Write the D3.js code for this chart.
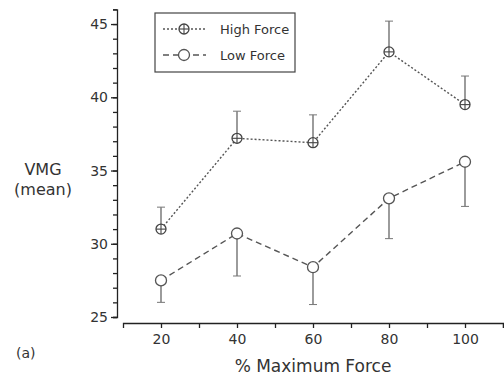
<!DOCTYPE html>
<html>
<head>
<meta charset="utf-8">
<script src="https://cdnjs.cloudflare.com/ajax/libs/d3/7.8.5/d3.min.js"></script>
<style>
  body { margin: 0; background: #fff; }
  text { font-family: "DejaVu Sans", sans-serif; fill: #333; }
</style>
</head>
<body>
<script>
// 数据
let forces = [20, 40, 60, 80, 100];
let highMean = [31.0, 37.2, 36.9, 43.1, 39.5];
let highErr = [1.5, 1.85, 1.9, 2.1, 1.95];
let lowMean = [27.5, 30.7, 28.4, 33.1, 35.6];
let lowErr = [1.5, 2.9, 2.55, 2.75, 3.05];
let yMajor = [25, 30, 35, 40, 45];
let xMajor = [20, 40, 60, 80, 100];
let xMinor = [30, 50, 70, 90, 110];

let width = 504;
let height = 383;

let x = d3.scaleLinear().domain([10, 110]).range([123, 503]);
let y = d3.scaleLinear().domain([25, 46]).range([317, 9.4]);

let svg = d3.select('body')
  .append('svg')
  .attr('width', width)
  .attr('height', height);

// y轴
let yAxisX = 117;
svg.append('g')
  .attr('transform', `translate(${yAxisX},0)`)
  .call(d3.axisLeft(y).tickValues(d3.range(25, 47)).tickSize(4).tickSizeOuter(4).tickFormat(''))
  .call(g => g.selectAll('path, line').attr('stroke', '#222').attr('stroke-width', 1.3));

svg.append('g')
  .attr('transform', `translate(${yAxisX},0)`)
  .call(d3.axisLeft(y).tickValues(yMajor).tickSize(6).tickSizeOuter(0).tickPadding(3))
  .call(g => g.select('.domain').remove())
  .call(g => g.selectAll('line').attr('stroke', '#222').attr('stroke-width', 1.3))
  .call(g => g.selectAll('text').attr('font-size', 14).attr('fill', '#333'));

// x轴
let xAxisY = 323;
svg.append('g')
  .attr('transform', `translate(0,${xAxisY})`)
  .call(d3.axisBottom(x).tickValues(xMinor).tickSize(5).tickSizeOuter(5).tickFormat(''))
  .call(g => g.selectAll('path, line').attr('stroke', '#222').attr('stroke-width', 1.3));

svg.append('g')
  .attr('transform', `translate(0,${xAxisY})`)
  .call(d3.axisBottom(x).tickValues(xMajor).tickSize(5).tickPadding(6))
  .call(g => g.select('.domain').remove())
  .call(g => g.selectAll('line').attr('stroke', '#222').attr('stroke-width', 1.3))
  .call(g => g.selectAll('text').attr('font-size', 14).attr('fill', '#333'));

// 轴标题
svg.append('text')
  .attr('x', 313).attr('y', 372)
  .attr('text-anchor', 'middle')
  .attr('font-size', 17)
  .text('% Maximum Force');

svg.append('text')
  .attr('x', 43).attr('y', 175)
  .attr('text-anchor', 'middle')
  .attr('font-size', 16)
  .text('VMG');
svg.append('text')
  .attr('x', 43).attr('y', 195)
  .attr('text-anchor', 'middle')
  .attr('font-size', 16)
  .text('(mean)');

svg.append('text')
  .attr('x', 16).attr('y', 358)
  .attr('font-size', 14)
  .text('(a)');

let lineColor = '#555';

function drawSeries(means, errs, dir, dash, marker) {
  let pts = forces.map((f, i) => ({ f: f, v: means[i], e: errs[i] }));

  // 误差棒
  svg.selectAll(null)
    .data(pts)
    .enter()
    .append('line')
    .attr('x1', d => x(d.f)).attr('x2', d => x(d.f))
    .attr('y1', d => y(d.v)).attr('y2', d => y(d.v + dir * d.e))
    .attr('stroke', '#666').attr('stroke-width', 1.3);
  svg.selectAll(null)
    .data(pts)
    .enter()
    .append('line')
    .attr('x1', d => x(d.f) - 4).attr('x2', d => x(d.f) + 4)
    .attr('y1', d => y(d.v + dir * d.e)).attr('y2', d => y(d.v + dir * d.e))
    .attr('stroke', '#777').attr('stroke-width', 1);

  let line = d3.line().x(d => x(d.f)).y(d => y(d.v));
  svg.append('path')
    .datum(pts)
    .attr('d', line)
    .attr('fill', 'none')
    .attr('stroke', lineColor)
    .attr('stroke-width', 1.4)
    .attr('stroke-dasharray', dash);

  pts.forEach(d => marker(x(d.f), y(d.v)));
}

function crossCircle(cx, cy) {
  let r = 5;
  svg.append('circle').attr('cx', cx).attr('cy', cy).attr('r', r)
    .attr('fill', '#fff').attr('stroke', '#444').attr('stroke-width', 1.3);
  svg.append('line').attr('x1', cx - r).attr('x2', cx + r).attr('y1', cy).attr('y2', cy)
    .attr('stroke', '#444').attr('stroke-width', 1.1);
  svg.append('line').attr('x1', cx).attr('x2', cx).attr('y1', cy - r).attr('y2', cy + r)
    .attr('stroke', '#444').attr('stroke-width', 1.1);
}

function openCircle(cx, cy) {
  svg.append('circle').attr('cx', cx).attr('cy', cy).attr('r', 5.5)
    .attr('fill', '#fff').attr('stroke', '#555').attr('stroke-width', 1.3);
}

drawSeries(highMean, highErr, 1, '2,2', crossCircle);
drawSeries(lowMean, lowErr, -1, '6,4', openCircle);

// 图例
svg.append('rect')
  .attr('x', 155).attr('y', 13)
  .attr('width', 140).attr('height', 59)
  .attr('fill', '#fff')
  .attr('stroke', '#444').attr('stroke-width', 1.2);

let legend = [
  { name: 'High Force', dash: '2,2', marker: crossCircle, y: 29 },
  { name: 'Low Force', dash: '6,4', marker: openCircle, y: 55 },
];
legend.forEach(l => {
  svg.append('line')
    .attr('x1', 163).attr('x2', 206)
    .attr('y1', l.y).attr('y2', l.y)
    .attr('stroke', lineColor).attr('stroke-width', 1.3)
    .attr('stroke-dasharray', l.dash);
  l.marker(184, l.y);
  svg.append('text')
    .attr('x', 220).attr('y', l.y + 5)
    .attr('font-size', 13)
    .text(l.name);
});
</script>
</body>
</html>
